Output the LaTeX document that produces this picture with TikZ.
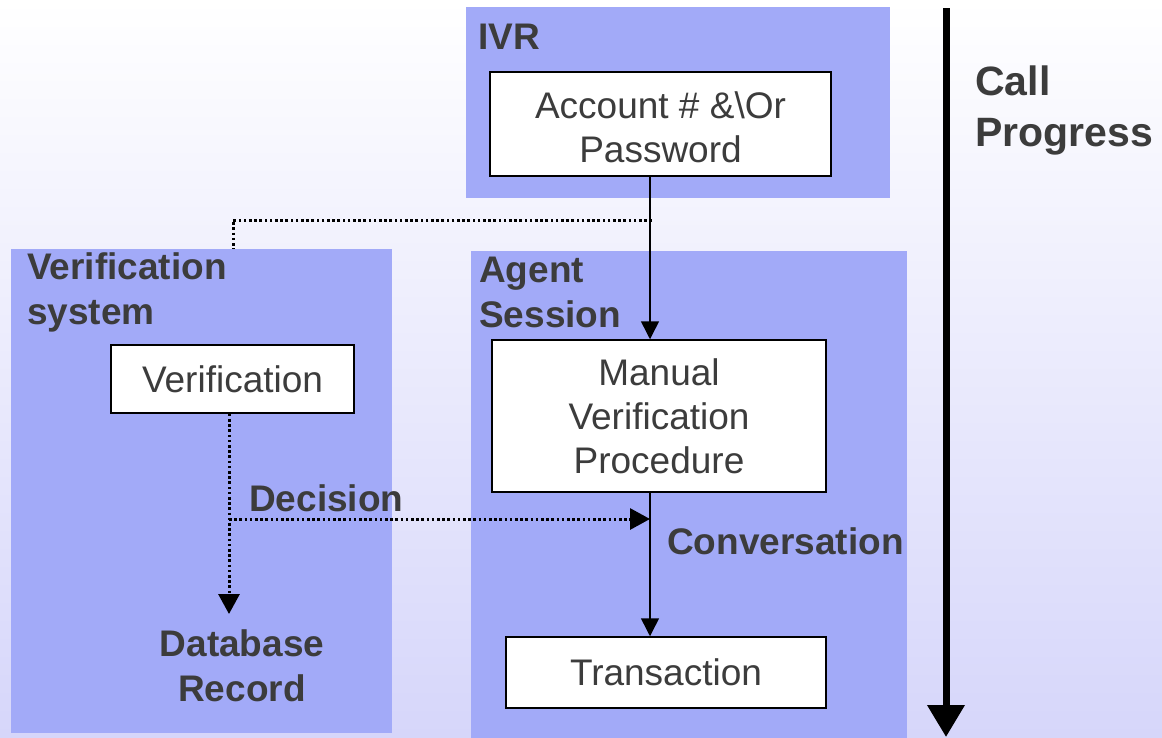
\documentclass[tikz,border=0pt]{standalone}
\usepackage{fontspec}
\setmainfont{Liberation Sans}
\usetikzlibrary{arrows.meta,calc}
\definecolor{regionblue}{RGB}{162,170,248}
\definecolor{textgray}{RGB}{60,60,60}
\definecolor{bgbottom}{RGB}{214,214,250}
\newcommand\lblfont{\fontsize{37}{45}\selectfont\bfseries}
\newcommand\regfont{\fontsize{37}{44}\selectfont}
\newcommand\bigfont{\fontsize{41}{51}\selectfont\bfseries}
\begin{document}
\begin{tikzpicture}[x=1pt,y=-1pt,
  region/.style={fill=regionblue, draw=none, inner sep=0, anchor=center},
  proc/.style={draw=black, line width=1.5pt, fill=white, text=textgray, font=\regfont, align=center, inner sep=0, anchor=center},
  lbl/.style={text=textgray, font=\lblfont, align=left, anchor=west, inner sep=0},
  flow/.style={draw=black, line width=1.5pt, -{Triangle[length=18pt,width=18pt]}},
  dotflow/.style={draw=black, line width=3pt, dash pattern=on 2.6pt off 2.6pt},
  dottip/.style={-{Triangle[length=20pt,width=21pt]}}
]
\useasboundingbox (0,0) rectangle (1162,737);
\shade[top color=white, bottom color=bgbottom] (0,0) rectangle (1162,737);

% regions
\node[region, minimum width=424pt, minimum height=191pt] (ivr) at (678,102.5) {};
\node[region, minimum width=381pt, minimum height=484pt] (versys) at (201.5,491) {};
\node[region, minimum width=436pt, minimum height=489pt] (agent) at (689,495.5) {};

% region labels
\node[lbl] (ivrlbl) at (478,37) {IVR};
\node[lbl] (verlbl) at (27,292.5) {Verification\\system};
\node[lbl] (agentlbl) at (479,292.5) {Agent\\Session};

% process boxes
\node[proc, minimum width=341pt, minimum height=104pt] (acct) at (660.5,124) {\parbox{300pt}{\centering\vspace*{6pt}Account \# \&\textbackslash Or\\Password}};
\node[proc, minimum width=243pt, minimum height=68pt] (verif) at (232.5,379) {Verification};
\node[proc, minimum width=334pt, minimum height=152pt] (manual) at (659,416) {Manual\\Verification\\Procedure};
\node[proc, minimum width=320pt, minimum height=71pt] (trans) at (666,672.5) {Transaction};

% other labels
\node[text=textgray, font=\lblfont, align=center, inner sep=0] (db) at (242,665.5) {Database\\Record};
\node[lbl] (declbl) at (249,498) {Decision};
\node[lbl] (convlbl) at (667,541) {Conversation};
\node[text=textgray, font=\bigfont, align=left, anchor=west, inner sep=0] (cp) at (975,110) {Call\\Progress};

% coordinates
\coordinate (j1) at (652,220);
\coordinate (jd) at (229,519);
\coordinate (cv) at (650,519);
\coordinate (dbtop) at (229,614);
\coordinate (cptop) at (946,8);
\coordinate (cpbot) at (946,737);

% connectors
\draw[flow] ([xshift=-10.5pt]acct.south) -- ([xshift=-9pt]manual.north);
\draw[flow] ([xshift=-9pt]manual.south) -- ([xshift=-16pt]trans.north);
\draw[dotflow] (j1) -| ([xshift=31.5pt]versys.north);
\draw[dotflow, dottip] ([xshift=-3.5pt]verif.south) -- (dbtop);
\draw[dotflow, dottip] (jd) -- (cv);
\draw[line width=7pt, -{Triangle[length=32pt,width=36pt]}] (cptop) -- (cpbot);
\end{tikzpicture}
\end{document}
